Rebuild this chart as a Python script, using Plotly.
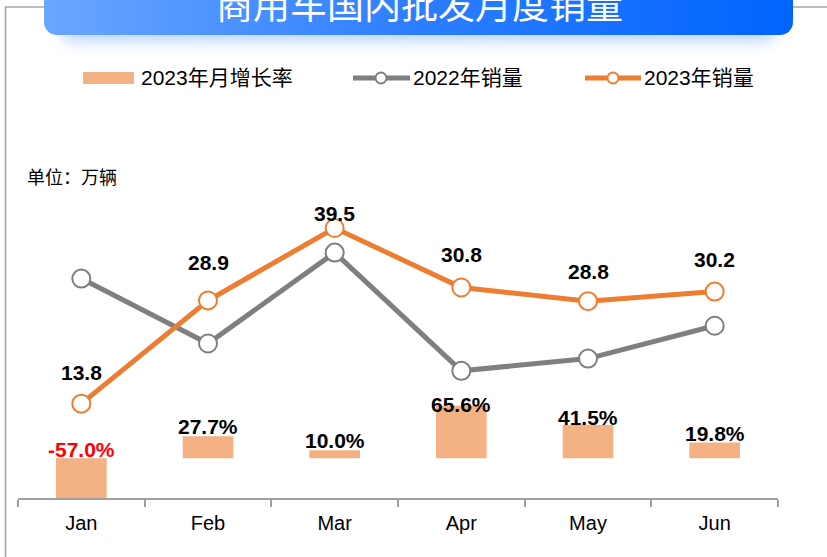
import base64
import plotly.graph_objects as go

# ---------------- data ----------------
months = ["Jan", "Feb", "Mar", "Apr", "May", "Jun"]
sales_2022 = [32.1, 22.6, 35.9, 18.6, 20.4, 25.2]
sales_2023 = [13.8, 28.9, 39.5, 30.8, 28.8, 30.2]
growth_2023 = [-57.0, 27.7, 10.0, 65.6, 41.5, 19.8]

title_text = "商用车国内批发月度销量"
legend_names = ["2023年月增长率", "2022年销量", "2023年销量"]
unit_text = "单位：万辆"

# label offsets (pixels) for the 2023 line labels and bar labels
line_label_shift = [31, 38, 15, 33, 30, 32]
bar_label_shift = [-5, -4, -4, -12, -6, -5]

# ---------------- geometry helpers ----------------
W, H = 827, 557
PL, PR, PT, PB = 18, 778, 120, 498  # plot area in pixels


def px(xp):
    return (xp - PL) / (PR - PL)


def py(yp):
    return (PB - yp) / (PB - PT)


ORANGE = "#ED7D31"
GREY = "#7F7F7F"
BAR = "#F4B183"
NUMFONT = "Arial, 'Liberation Sans', sans-serif"
CJKFONT = "Arial, 'Liberation Sans', 'Noto Sans CJK SC', sans-serif"

fig = go.Figure()

fig.add_trace(go.Bar(
    x=months, y=growth_2023, marker=dict(color=BAR, line=dict(width=0)),
    width=0.4, yaxis="y", showlegend=False, hoverinfo="skip",
))
fig.add_trace(go.Scatter(
    x=months, y=sales_2022, mode="lines+markers", yaxis="y2",
    line=dict(color=GREY, width=5),
    marker=dict(size=18, color="white", line=dict(color=GREY, width=2)),
    showlegend=False,
))
fig.add_trace(go.Scatter(
    x=months, y=sales_2023, mode="lines+markers", yaxis="y2",
    line=dict(color=ORANGE, width=5),
    marker=dict(size=18, color="white", line=dict(color=ORANGE, width=2)),
    showlegend=False,
))

annotations = []
for m, v, s in zip(months, sales_2023, line_label_shift):
    annotations.append(dict(
        x=m, y=v, xref="x", yref="y2", text=f"<b>{v:.1f}</b>", showarrow=False,
        yanchor="middle", yshift=s, font=dict(family=NUMFONT, size=21, color="black"),
    ))
for m, v, s in zip(months, growth_2023, bar_label_shift):
    annotations.append(dict(
        x=m, y=max(v, 0), xref="x", yref="y", text=f"<b>{v:.1f}%</b>", showarrow=False,
        yanchor="bottom", yshift=s,
        font=dict(family=NUMFONT, size=21, color="#FF0000" if v < 0 else "black"),
    ))

# title
annotations.append(dict(
    x=px(419), y=py(3), xref="paper", yref="paper", text=title_text, showarrow=False,
    xanchor="center", yanchor="middle",
    font=dict(family="'Noto Sans CJK SC', sans-serif", size=37, color="white"),
))
# unit
annotations.append(dict(
    x=px(25), y=py(178), xref="paper", yref="paper", text=unit_text, showarrow=False,
    xanchor="left", yanchor="middle",
    font=dict(family=CJKFONT, size=18, color="black"),
))
# legend texts
for xt, name in zip([139, 411, 642], legend_names):
    annotations.append(dict(
        x=px(xt), y=py(78), xref="paper", yref="paper", text=name, showarrow=False,
        xanchor="left", yanchor="middle",
        font=dict(family=CJKFONT, size=21, color="black"),
    ))

shapes = [
    dict(type="rect", xref="paper", yref="paper", x0=px(83), x1=px(134), y0=py(72), y1=py(84),
         fillcolor=BAR, line=dict(width=0)),
    dict(type="line", xref="paper", yref="paper", x0=px(353), x1=px(410), y0=py(78), y1=py(78),
         line=dict(color=GREY, width=5)),
    dict(type="circle", xref="paper", yref="paper", x0=px(375.5), x1=px(386.5), y0=py(72.5), y1=py(83.5),
         fillcolor="white", line=dict(color=GREY, width=2)),
    dict(type="line", xref="paper", yref="paper", x0=px(585), x1=px(641), y0=py(78), y1=py(78),
         line=dict(color=ORANGE, width=5)),
    dict(type="circle", xref="paper", yref="paper", x0=px(607.5), x1=px(618.5), y0=py(72.5), y1=py(83.5),
         fillcolor="white", line=dict(color=ORANGE, width=2)),
]

# background decoration: frame + gradient banner with glow
svg = f"""<svg xmlns='http://www.w3.org/2000/svg' width='{W}' height='{H}' viewBox='0 0 {W} {H}' preserveAspectRatio='none'>
<defs>
<linearGradient id='g' x1='0' y1='0' x2='1' y2='0'>
<stop offset='0' stop-color='#6AA6FF'/><stop offset='0.5' stop-color='#2C7EFF'/><stop offset='1' stop-color='#0064FF'/>
</linearGradient>
<filter id='b' x='-10%' y='-60%' width='120%' height='220%'><feGaussianBlur stdDeviation='7'/></filter>
</defs>
<path d='M5.5 {H} V7 H{W}' fill='none' stroke='#A6A6A6' stroke-width='1.6'/>
<rect x='60' y='-10' width='717' height='52' rx='14' fill='#A9C8FF' opacity='0.75' filter='url(#b)'/>
<rect x='44' y='-30' width='749' height='65' rx='13' fill='url(#g)'/>
</svg>"""
svg_uri = "data:image/svg+xml;base64," + base64.b64encode(svg.encode("utf-8")).decode("ascii")

images = [dict(
    source=svg_uri, xref="paper", yref="paper", x=px(0), y=py(0),
    sizex=W / (PR - PL), sizey=H / (PB - PT), xanchor="left", yanchor="top",
    sizing="stretch", layer="below",
)]

fig.update_layout(
    width=W, height=H,
    margin=dict(l=PL, r=W - PR, t=PT, b=H - PB, pad=0),
    paper_bgcolor="white", plot_bgcolor="rgba(0,0,0,0)",
    showlegend=False,
    xaxis=dict(
        type="category", range=[-0.5, 5.5], showgrid=False, zeroline=False,
        showline=True, linecolor="#A0A0A0", linewidth=2,
        ticks="outside", tickson="boundaries", ticklen=7, tickwidth=1.5, tickcolor="#A0A0A0",
        ticklabelstandoff=6,
        tickfont=dict(family=NUMFONT, size=20, color="black"),
    ),
    yaxis=dict(range=[-49.6, 422.9], visible=False, showgrid=False, zeroline=False),
    yaxis2=dict(range=[0, 55.3], overlaying="y", visible=False, showgrid=False, zeroline=False),
    annotations=annotations,
    shapes=shapes,
    images=images,
    bargap=0.6,
)

fig.write_html(
    "out.html",
    config={"displayModeBar": False},
    post_script="document.body.style.margin='0';document.body.style.overflow='hidden';",
)
